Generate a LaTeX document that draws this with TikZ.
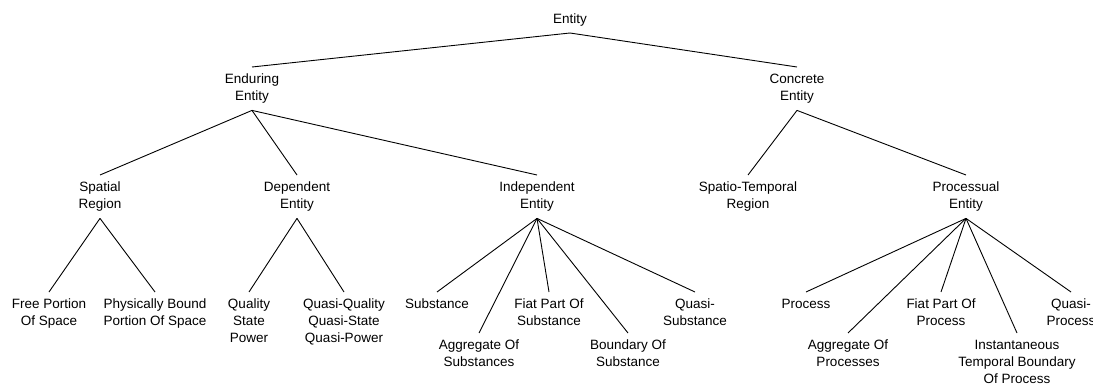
\documentclass[tikz,border=0pt]{standalone}
\usepackage{fontspec}
\setmainfont{Liberation Sans}
\begin{document}
\begin{tikzpicture}[x=1pt,y=-1pt,
  lbl/.style={font=\fontsize{13.5}{17}\selectfont, align=center, inner xsep=0pt, inner ysep=4.5pt, anchor=north},
  edge/.style={line width=0.9pt, black}]
\useasboundingbox (0,0) rectangle (1093,385);
\fill[white] (0,0) rectangle (1093,385);
% level 1
\node[lbl, anchor=south] (ent) at (570,33) {\strut Entity};
% level 2
\node[lbl] (end) at (252,67) {\strut Enduring\\\strut Entity};
\node[lbl] (con) at (797,67) {\strut Concrete\\\strut Entity};
% level 3
\node[lbl] (sr) at (100,175) {\strut Spatial\\\strut Region};
\node[lbl] (de) at (297,175) {\strut Dependent\\\strut Entity};
\node[lbl] (ie) at (537,175) {\strut Independent\\\strut Entity};
\node[lbl] (st) at (748,175) {\strut Spatio-Temporal\\\strut Region};
\node[lbl] (pe) at (966,175) {\strut Processual\\\strut Entity};
% leaves row 1
\node[lbl] (fps) at (49,292) {\strut Free Portion\\\strut Of Space};
\node[lbl] (pbp) at (155,292) {\strut Physically Bound\\\strut Portion Of Space};
\node[lbl] (qsp) at (249,292) {\strut Quality\\\strut State\\\strut Power};
\node[lbl] (qqq) at (344,292) {\strut Quasi-Quality\\\strut Quasi-State\\\strut Quasi-Power};
\node[lbl] (sub) at (437,292) {\strut Substance};
\node[lbl] (fps2) at (549,292) {\strut Fiat Part Of\\\strut Substance};
\node[lbl] (qsub) at (695,292) {\strut Quasi-\\\strut Substance};
\node[lbl] (proc) at (806,292) {\strut Process};
\node[lbl] (fpp) at (941,292) {\strut Fiat Part Of\\\strut Process};
\node[lbl] (qproc) at (1071,292) {\strut Quasi-\\\strut Process};
% leaves row 2
\node[lbl] (aos) at (479,333) {\strut Aggregate Of\\\strut Substances};
\node[lbl] (bos) at (628,333) {\strut Boundary Of\\\strut Substance};
\node[lbl] (aop) at (848,333) {\strut Aggregate Of\\\strut Processes};
\node[lbl] (itb) at (1017,333) {\strut Instantaneous\\\strut Temporal Boundary\\\strut Of Process};
% connectors
\draw[edge] (ent.south) -- (end.north);
\draw[edge] (ent.south) -- (con.north);
\draw[edge] (end.south) -- (sr.north);
\draw[edge] (end.south) -- (de.north);
\draw[edge] (end.south) -- (ie.north);
\draw[edge] (con.south) -- (st.north);
\draw[edge] (con.south) -- (pe.north);
\draw[edge] (sr.south) -- (fps.north);
\draw[edge] (sr.south) -- (pbp.north);
\draw[edge] (de.south) -- (qsp.north);
\draw[edge] (de.south) -- (qqq.north);
\draw[edge] (ie.south) -- (sub.north);
\draw[edge] (ie.south) -- (aos.north);
\draw[edge] (ie.south) -- (fps2.north);
\draw[edge] (ie.south) -- (bos.north);
\draw[edge] (ie.south) -- (qsub.north);
\draw[edge] (pe.south) -- (proc.north);
\draw[edge] (pe.south) -- (aop.north);
\draw[edge] (pe.south) -- (fpp.north);
\draw[edge] (pe.south) -- (itb.north);
\draw[edge] (pe.south) -- (qproc.north);
\end{tikzpicture}
\end{document}
